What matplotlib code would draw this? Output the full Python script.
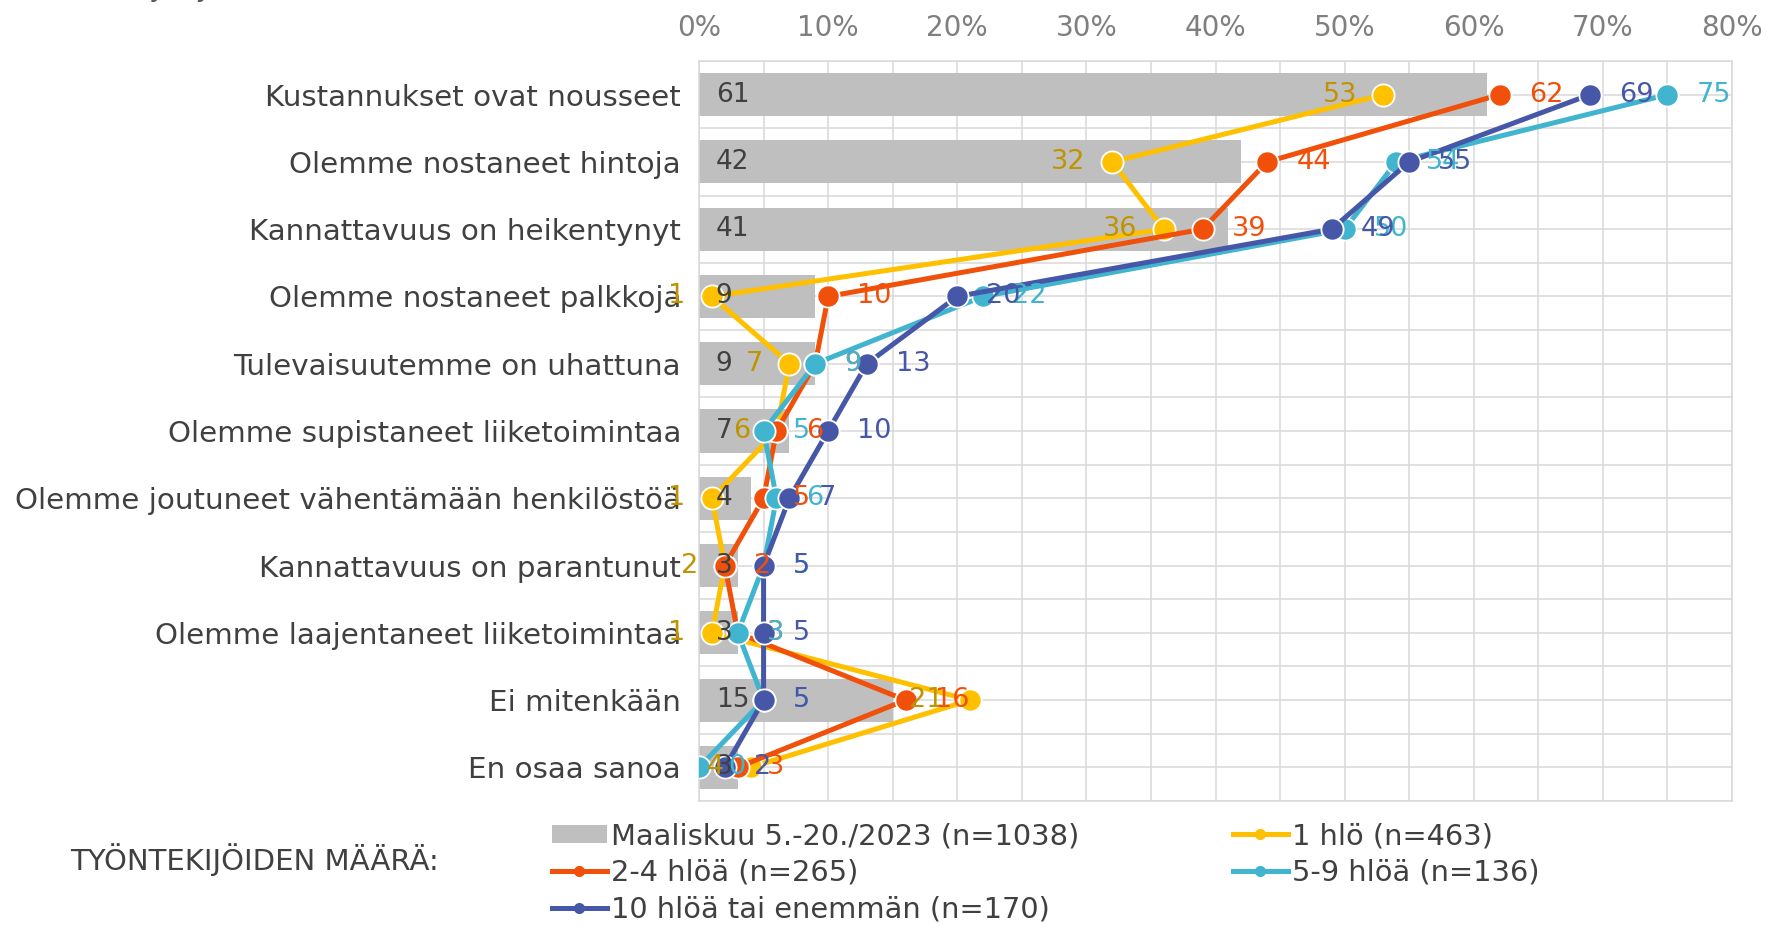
import matplotlib.pyplot as plt
from matplotlib.lines import Line2D
import numpy as np

categories = [
    "Kustannukset ovat nousseet",
    "Olemme nostaneet hintoja",
    "Kannattavuus on heikentynyt",
    "Olemme nostaneet palkkoja",
    "Tulevaisuutemme on uhattuna",
    "Olemme supistaneet liiketoimintaa",
    "Olemme joutuneet vähentämään henkilöstöä",
    "Kannattavuus on parantunut",
    "Olemme laajentaneet liiketoimintaa",
    "Ei mitenkään",
    "En osaa sanoa",
]
all_resp = [61, 42, 41, 9, 9, 7, 4, 3, 3, 15, 3]
one = [53, 32, 36, 1, 7, 6, 1, 2, 1, 21, 4]
two_four = [62, 44, 39, 10, 9, 6, 5, 2, 3, 16, 3]
five_nine = [75, 54, 50, 22, 9, 5, 6, 5, 3, 5, 0]
ten_plus = [69, 55, 49, 20, 13, 10, 7, 5, 5, 5, 2]

bar_label = "Maaliskuu 5.-20./2023 (n=1038)"
series_labels = ["1 hlö (n=463)", "2-4 hlöä (n=265)", "5-9 hlöä (n=136)",
                 "10 hlöä tai enemmän (n=170)"]
colors = ["#FFC000", "#F0500A", "#41B4CF", "#4757A8"]
label_colors = ["#C09300", "#F0500A", "#41B4CF", "#4757A8"]

fig = plt.figure(figsize=(17.67, 9.27), dpi=100)
ax = fig.add_axes([0.3956, 0.1359, 0.5846, 0.7983])

y = np.arange(len(categories))
bars = ax.barh(y, all_resp, height=0.64, color="#BFBFBF", zorder=2)
for yi, v in zip(y, all_resp):
    ax.annotate(str(v), (0, yi), xytext=(12, 0), textcoords="offset points",
                ha="left", va="center", fontsize=19, color="#404040", zorder=10)

lines = []
for vals, c, lc, i in zip([one, two_four, five_nine, ten_plus], colors, label_colors, range(4)):
    ln, = ax.plot(vals, y, color=c, lw=3.6, marker="o", ms=16,
                  markeredgecolor="white", markeredgewidth=1.3, zorder=3 + i)
    lines.append(ln)
    for yi, v in zip(y, vals):
        if i == 0:
            ax.annotate(str(v), (v, yi), xytext=(-19, 0), textcoords="offset points",
                        ha="right", va="center", fontsize=19.5, color=lc, zorder=10)
        else:
            ax.annotate(str(v), (v, yi), xytext=(21, 0), textcoords="offset points",
                        ha="left", va="center", fontsize=19.5, color=lc, zorder=10)

ax.set_xlim(0, 80)
ax.set_ylim(len(categories) - 0.5, -0.5)
ax.set_xticks(np.arange(0, 81, 10))
ax.set_xticks(np.arange(5, 80, 10), minor=True)
ax.set_xticklabels([f"{t}%" for t in range(0, 81, 10)])
ax.set_yticks(y)
ax.set_yticklabels(categories)
ax.set_yticks(np.arange(-0.5, len(categories), 1), minor=True)
ax.xaxis.tick_top()
ax.tick_params(axis="x", which="both", length=0, pad=14, labelsize=20, labelcolor="#7F7F7F")
ax.tick_params(axis="y", which="both", length=0, pad=13, labelsize=21.2, labelcolor="#404040")
ax.grid(True, which="both", color="#D9D9D9", lw=1.1, zorder=0)
ax.set_axisbelow(True)
for s in ax.spines.values():
    s.set_color("#D9D9D9")
    s.set_linewidth(1.1)

# title mostly cut off at top of the image
fig.text(413 / 1767, 1.004, "Vaikutukset yritykseen, (kaikki)", ha="right", va="baseline",
         fontsize=20, color="#595959")

fig.text(70 / 1767, 1 - 860 / 927, "TYÖNTEKIJÖIDEN MÄÄRÄ:", ha="left", va="center",
         fontsize=21, color="#404040")

def proxy(c):
    return Line2D([0], [0], color=c, lw=3.6, marker="o", ms=7,
                  markeredgecolor=c)

handles = [bars, proxy(colors[1]), proxy(colors[3]), proxy(colors[0]), proxy(colors[2])]
labels = [bar_label, series_labels[1], series_labels[3], series_labels[0], series_labels[2]]
leg = fig.legend(handles, labels, loc="upper left", bbox_to_anchor=(552 / 1767, 1 - 822 / 927),
                 ncol=2, frameon=False, fontsize=20.8, labelcolor="#404040",
                 handlelength=1.9, handleheight=0.6, handletextpad=0.15,
                 columnspacing=5.3, labelspacing=0.3, borderpad=0, borderaxespad=0)

fig.savefig("out.png", dpi=100)
